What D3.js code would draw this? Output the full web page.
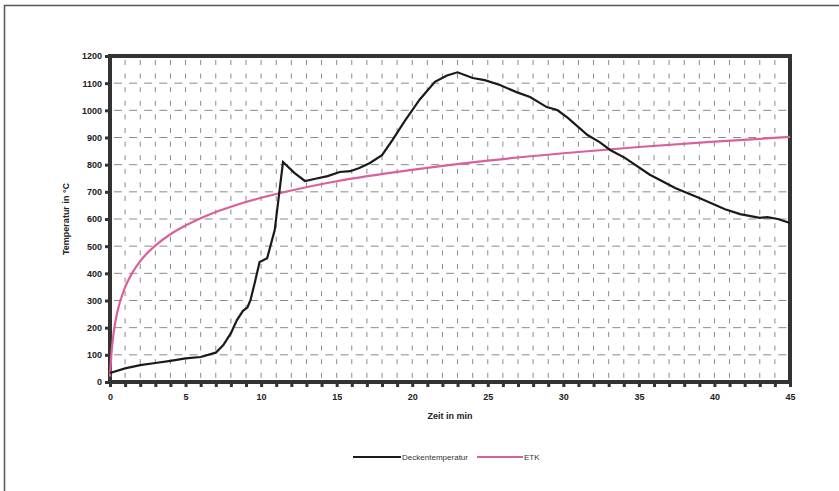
<!DOCTYPE html>
<html>
<head>
<meta charset="utf-8">
<script src="https://cdn.jsdelivr.net/npm/d3@7"></script>
<style>
  body { margin: 0; background: #fff; }
  svg { display: block; font-family: "Liberation Sans", Arial, sans-serif; }
</style>
</head>
<body>
<svg></svg>
<script>
// Deckentemperatur (ceiling temperature)
var deckeTime = [0, 1, 2, 3, 4, 5, 6, 7, 7.5, 8, 8.4, 8.8, 9.1, 9.3, 9.6, 9.9, 10.4, 10.9, 11.45, 12.2, 12.9, 13.6, 14.4, 15.2, 15.9, 16.5, 17.2, 18, 18.7, 19.5, 20.5, 21.5, 22.3, 23, 24, 24.8, 25.8, 26.9, 27.8, 28.9, 29.6, 30.3, 31.6, 32.4, 33.1, 34.1, 35.7, 37.4, 39, 40.7, 41.7, 43, 43.5, 44.2, 45];
var deckeTemp = [33, 50, 62, 70, 78, 87, 92, 108, 136, 180, 228, 262, 275, 302, 370, 442, 456, 559, 810, 770, 740, 748, 758, 773, 776, 788, 806, 835, 891, 960, 1040, 1105, 1128, 1140, 1119, 1111, 1093, 1067, 1049, 1012, 1001, 972, 909, 883, 854, 824, 764, 714, 677, 636, 618, 604, 607, 600, 585];

// ETK (Einheits-Temperaturzeitkurve)
var etkTime = [0, 0.1, 0.25, 0.5, 1, 1.5, 2, 3, 4, 5, 6, 7, 8, 10, 12, 15, 20, 25, 30, 35, 40, 45];
var etkTemp = [20, 108, 185, 261, 349, 404, 445, 502, 544, 576, 603, 626, 645, 678, 705, 739, 781, 815, 842, 865, 885, 902];

var xTicks = [0, 5, 10, 15, 20, 25, 30, 35, 40, 45];
var yTicks = [0, 100, 200, 300, 400, 500, 600, 700, 800, 900, 1000, 1100, 1200];

var width = 839, height = 491;
var svg = d3.select("svg").attr("width", width).attr("height", height);

var plotL = 110, plotR = 790, plotT = 56, plotB = 382;
var x = d3.scaleLinear().domain([0, 45]).range([plotL, plotR]);
var y = d3.scaleLinear().domain([0, 1200]).range([plotB, plotT]);

// page border (scan frame)
svg.append("path")
  .attr("d", "M4.5,491 L4.5,5.5 L839,5.5")
  .attr("fill", "none")
  .attr("stroke", "#555")
  .attr("stroke-width", 1.5);

// grid
svg.append("g").selectAll("line")
  .data(d3.range(1, 45))
  .enter().append("line")
  .attr("x1", function(d){ return x(d); })
  .attr("x2", function(d){ return x(d); })
  .attr("y1", plotT + 4)
  .attr("y2", plotB)
  .attr("stroke", "#8a8a8a")
  .attr("stroke-width", 1)
  .attr("stroke-dasharray", "5,8.6");

svg.append("g").selectAll("line")
  .data(d3.range(100, 1200, 100))
  .enter().append("line")
  .attr("x1", plotL + 4)
  .attr("x2", plotR)
  .attr("y1", function(d){ return y(d); })
  .attr("y2", function(d){ return y(d); })
  .attr("stroke", "#8a8a8a")
  .attr("stroke-width", 1)
  .attr("stroke-dasharray", "8,7.1");

// frame
svg.append("rect")
  .attr("x", plotL).attr("y", plotT)
  .attr("width", plotR - plotL).attr("height", plotB - plotT)
  .attr("fill", "none")
  .attr("stroke", "#333")
  .attr("stroke-width", 4);

// axes
var xAxis = d3.axisBottom(x).tickValues(d3.range(0, 46)).tickSize(4).tickFormat(function(d){
  return xTicks.indexOf(d) >= 0 ? d : "";
});
var gx = svg.append("g").attr("transform", "translate(0," + (plotB + 1) + ")").call(xAxis);
gx.select(".domain").remove();
gx.selectAll(".tick line").attr("stroke", "#333").attr("stroke-width", 3);
gx.selectAll(".tick text").attr("dy", "1.1em").attr("font-size", 9).attr("font-weight", "bold").attr("fill", "#222");

var yAxis = d3.axisLeft(y).tickValues(yTicks).tickSize(4).tickFormat(d3.format("d"));
var gy = svg.append("g").attr("transform", "translate(" + (plotL - 1) + ",0)").call(yAxis);
gy.select(".domain").remove();
gy.selectAll(".tick line").attr("stroke", "#333").attr("stroke-width", 3);
gy.selectAll(".tick text").attr("font-size", 9).attr("font-weight", "bold").attr("fill", "#222");

// axis titles
svg.append("text")
  .attr("transform", "translate(69," + ((plotT + plotB) / 2) + ") rotate(-90)")
  .attr("text-anchor", "middle")
  .attr("font-size", 9).attr("font-weight", "bold").attr("fill", "#222")
  .text("Temperatur in °C");

svg.append("text")
  .attr("x", (plotL + plotR) / 2)
  .attr("y", 419)
  .attr("text-anchor", "middle")
  .attr("font-size", 9).attr("font-weight", "bold").attr("fill", "#222")
  .text("Zeit in min");

// curves
var line = d3.line()
  .x(function(d){ return x(d[0]); })
  .y(function(d){ return y(d[1]); });

svg.append("path")
  .datum(d3.zip(etkTime, etkTemp))
  .attr("d", line.curve(d3.curveMonotoneX))
  .attr("fill", "none")
  .attr("stroke", "#d9609a")
  .attr("stroke-width", 2.2);

svg.append("path")
  .datum(d3.zip(deckeTime, deckeTemp))
  .attr("d", line.curve(d3.curveLinear))
  .attr("fill", "none")
  .attr("stroke", "#1a1a1a")
  .attr("stroke-width", 2.2);

// legend
var legend = svg.append("g").attr("font-size", 8).attr("fill", "#333");
legend.append("line").attr("x1", 353).attr("x2", 401).attr("y1", 457).attr("y2", 457)
  .attr("stroke", "#1a1a1a").attr("stroke-width", 2);
legend.append("text").attr("x", 402).attr("y", 460).text("Deckentemperatur")
  .attr("textLength", 66).attr("lengthAdjust", "spacingAndGlyphs");
legend.append("line").attr("x1", 477).attr("x2", 523).attr("y1", 457).attr("y2", 457)
  .attr("stroke", "#d9609a").attr("stroke-width", 2);
legend.append("text").attr("x", 524).attr("y", 460).text("ETK");
</script>
</body>
</html>
